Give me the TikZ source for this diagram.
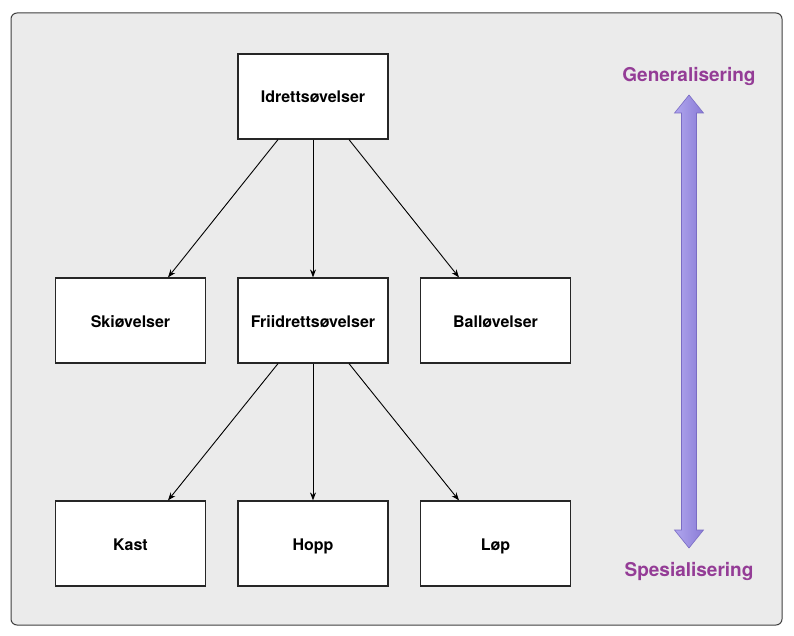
\documentclass[tikz,border=0pt]{standalone}
\usepackage{fontspec}
\setmainfont{TeX Gyre Heros}
\usetikzlibrary{calc,arrows.meta}
\definecolor{bgpanel}{HTML}{EBEBEB}
\definecolor{purp}{HTML}{943C96}
\definecolor{arrA}{HTML}{B0A6EE}
\definecolor{arrB}{HTML}{8A7CD6}
\definecolor{arrEdge}{HTML}{7A6CC4}
\tikzset{
  box/.style={draw=black!85, line width=1.2pt, fill=white, minimum width=150pt, minimum height=85pt, inner sep=0pt, text height=15pt, text depth=2pt, font=\bfseries\fontsize{16}{18}\selectfont},
  link/.style={-{Stealth[length=8pt,width=6pt]}, line width=0.9pt, black},
  lbl/.style={text=purp, font=\bfseries\fontsize{19}{21}\selectfont},
}
\begin{document}
\begin{tikzpicture}[x=1pt,y=-1pt]
\useasboundingbox (0,0) rectangle (794,636);
\fill[white] (0,0) rectangle (794,636);
\draw[draw=black!75, line width=1pt, fill=bgpanel, rounded corners=6pt] (11,13) rectangle (782,625);
\node[box] (idr) at (313,96.5) {Idrettsøvelser};
\node[box] (ski) at (130.5,320.5) {Skiøvelser};
\node[box] (fri) at (313,320.5) {Friidrettsøvelser};
\node[box] (bal) at (495.5,320.5) {Balløvelser};
\node[box] (kas) at (130.5,543.5) {Kast};
\node[box] (hop) at (313,543.5) {Hopp};
\node[box] (lop) at (495.5,543.5) {Løp};
\draw[link] (idr.south -| 278,0) -- (ski.north -| 168,0);
\draw[link] (idr.south) -- (fri.north);
\draw[link] (idr.south -| 349,0) -- (bal.north -| 459,0);
\draw[link] (fri.south -| 278,0) -- (kas.north -| 168,0);
\draw[link] (fri.south) -- (hop.north);
\draw[link] (fri.south -| 349,0) -- (lop.north -| 459,0);
\node[lbl] (gen) at (689,76.5) {Generalisering};
\node[lbl] (spe) at (689,571.5) {Spesialisering};
\coordinate (atop) at (689,95);
\coordinate (abot) at (689,548);
\draw[arrEdge, line width=0.6pt, left color=arrA, right color=arrB]
  (atop) -- ++(14.5,18) -- ++(-7,0) |- ($(abot)+(7.5,-18)$) -- ++(7,0) -- (abot) -- ++(-14.5,-18) -- ++(7,0) |- ($(atop)+(-7.5,18)$) -- ++(-7,0) -- cycle;
\end{tikzpicture}
\end{document}
